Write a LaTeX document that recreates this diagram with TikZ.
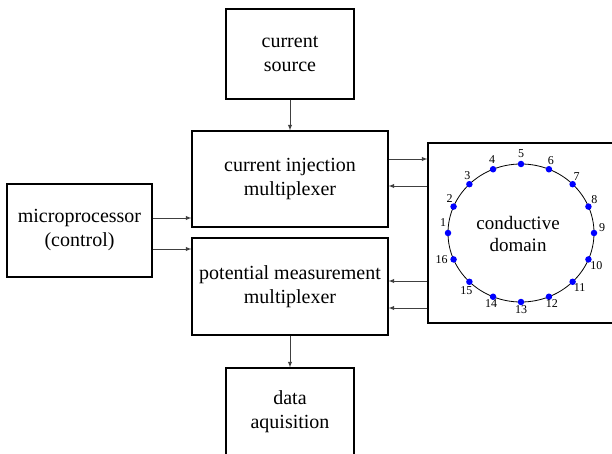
\documentclass[tikz,border=0pt]{standalone}
\usepackage{fontspec}
\setmainfont{Liberation Serif}
\begin{document}
\begin{tikzpicture}[x=1pt,y=-1pt,
  boxframe/.style={draw=black,line width=1.1pt,inner sep=0pt},
  boxtext/.style={align=center,font=\fontsize{20}{24}\selectfont},
  arr/.style={draw=black!75,line width=0.9pt,-latex},
  dot/.style={circle,fill=blue,inner sep=0pt,minimum size=6.5pt},
  num/.style={font=\fontsize{12}{12}\selectfont,inner sep=0pt}]
\useasboundingbox (0,0) rectangle (612,454);
\node[boxframe,minimum width=128pt,minimum height=90pt] (cs) at (290,54) {};
\node[boxframe,minimum width=196pt,minimum height=96pt] (ci) at (290,179) {};
\node[boxframe,minimum width=196pt,minimum height=97pt] (pm) at (290,286.5) {};
\node[boxframe,minimum width=128pt,minimum height=88pt] (da) at (290,412) {};
\node[boxframe,minimum width=145pt,minimum height=93pt] (mp) at (79.5,230.5) {};
\node[boxframe,minimum width=192pt,minimum height=180pt] (cd) at (524,233) {};
\node[boxtext] (cst) at (cs) {current\\source};
\node[boxtext] (cit) at (ci) {current injection\\multiplexer};
\node[boxtext] (pmt) at (pm) {potential measurement\\multiplexer};
\node[boxtext] (dat) at (da) {data\\aquisition};
\node[boxtext] (mpt) at (mp) {microprocessor\\(control)};
\draw[black,line width=0.8pt] (521,233) ellipse [x radius=73,y radius=69];
\node[align=center,font=\fontsize{19}{22}\selectfont] (lbl) at (518,234) {conductive\\domain};
\foreach \k/\dx/\dy in {1/-5/-10,2/-4/-8,3/-2/-9,4/-1/-10,5/0/-10,6/2/-9,7/4/-8,8/6/-7,9/8/-5,10/8/6,11/7/6,12/3/7,13/0/8,14/-2/7,15/-3/9,16/-12/0}{
  \pgfmathsetmacro{\a}{180-(\k-1)*22.5}
  \node[dot] (e\k) at ({521+73*cos(\a)},{233-69*sin(\a)}) {};
  \node[num] (n\k) at ({521+73*cos(\a)+\dx},{233-69*sin(\a)+\dy}) {\k};
}
\draw[arr] (cs.south) -- (ci.north);
\draw[arr] (pm.south) -- (da.north);
\draw[arr] (mp.east |- 0,218) -- (ci.west |- 0,218);
\draw[arr] (mp.east |- 0,249) -- (pm.west |- 0,249);
\draw[arr] (ci.east |- 0,159) -- (cd.west |- 0,159);
\draw[arr] (cd.west |- 0,186) -- (ci.east |- 0,186);
\draw[arr] (cd.west |- 0,281) -- (pm.east |- 0,281);
\draw[arr] (cd.west |- 0,308) -- (pm.east |- 0,308);
\end{tikzpicture}
\end{document}
